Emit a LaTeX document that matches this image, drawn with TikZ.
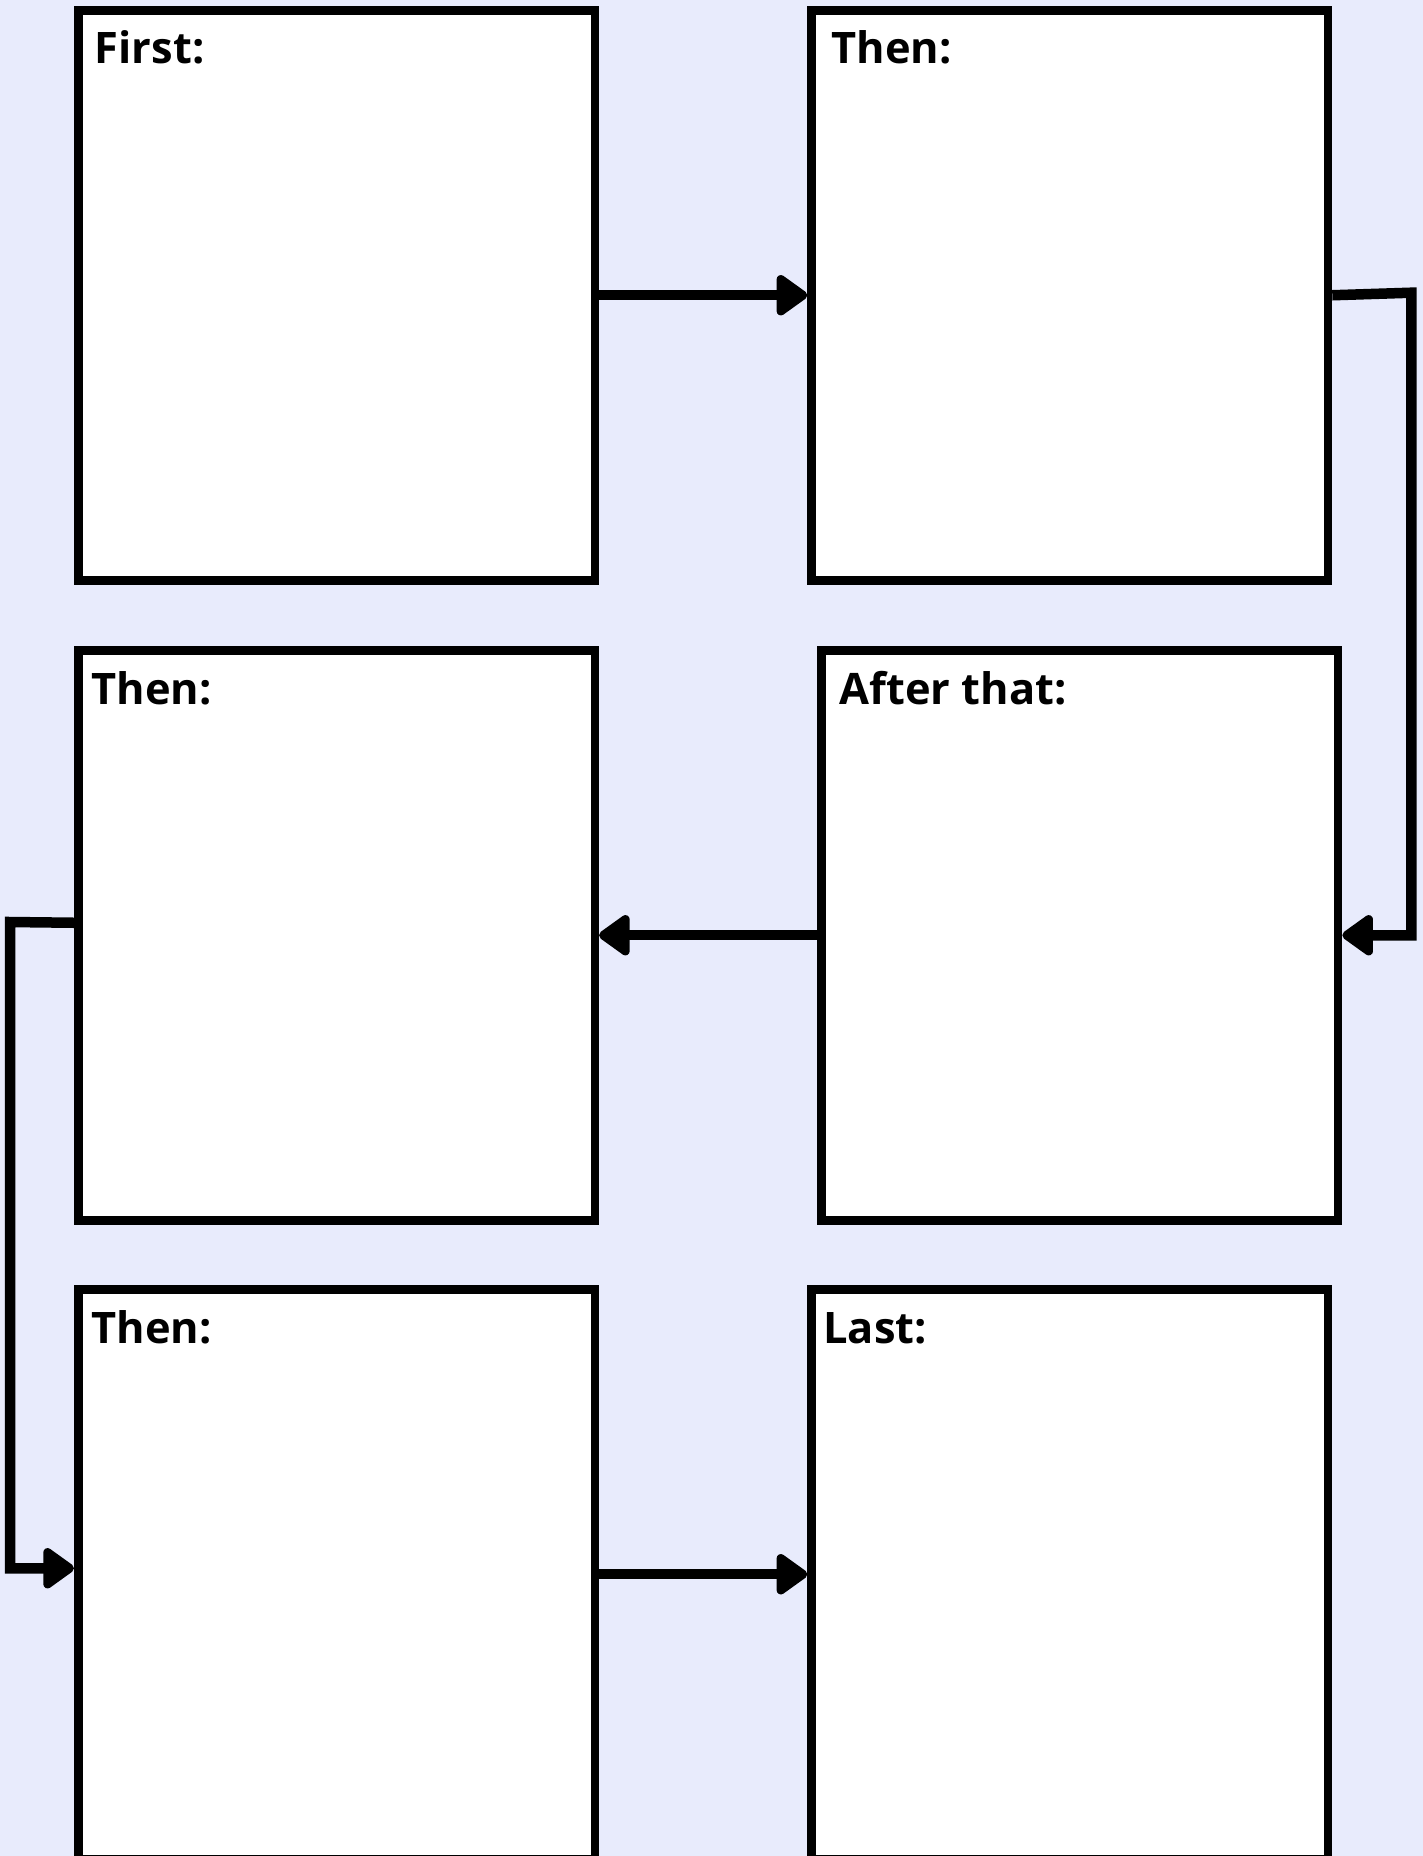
\documentclass[tikz,border=0pt]{standalone}
\usepackage{fontspec}
\setmainfont{Open Sans}
\usetikzlibrary{arrows.meta,positioning,calc}
\definecolor{pagebg}{RGB}{232,235,252}
\tikzset{
  stepbox/.style ={draw=black, line width=8.5pt, fill=white, inner sep=0pt,
                   minimum width=516.5pt, minimum height=570pt, anchor=north west},
  steplbl/.style ={font=\fontsize{43.4}{52}\selectfont\bfseries, anchor=base west,
                   inner sep=0pt},
  ar/.style      ={-{Triangle[length=34pt,width=46pt,round]}, line width=10pt},
  arl/.style     ={ar, line width=10.5pt},
}

\begin{document}
\begin{tikzpicture}[x=1pt,y=-1pt]
\useasboundingbox[fill=pagebg] (0,0) rectangle (1423,1856);
% the six steps
\node[stepbox] (b1) at (74,6) {};
\node[stepbox] (b2) at (807.3,6) {};
\node[stepbox] (b3) at (74,646) {};
\node[stepbox] (b4) at (817.3,646) {};
\node[stepbox] (b5) at (74,1285) {};
\node[stepbox] (b6) at (807.3,1285) {};
\node[steplbl] (t1) at ($(b1.north west)+(20.7,57.5)$) {First:};
\node[steplbl] (t2) at ($(b2.north west)+(24,57.5)$) {Then:};
\node[steplbl] (t3) at ($(b3.north west)+(17.5,58)$) {Then:};
\node[steplbl] (t4) at ($(b4.north west)+(22,58)$) {After that:};
\node[steplbl] (t5) at ($(b5.north west)+(17.5,58.5)$) {Then:};
\node[steplbl] (t6) at ($(b6.north west)+(15.8,58.5)$) {Last:};
% turns at the sides
\coordinate (r1) at (1411.3,292.7);
\coordinate (l1) at (10,922);
\draw[ar] (b1) -- (b2);
\draw[arl] (b2.east) -- (r1) |- (b4.east);
\draw[ar] (b4) -- (b3);
\draw[arl] ([yshift=12.5pt]b3.west) -- (l1) |- ([yshift=6pt]b5.west);
\draw[ar] (b5) -- (b6);
\end{tikzpicture}
\end{document}
